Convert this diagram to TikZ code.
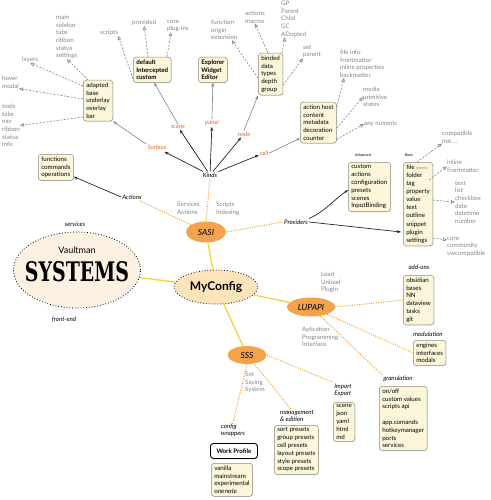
\documentclass[tikz,border=0pt]{standalone}
\usepackage{fontspec}
\usepackage{graphicx}
\setmainfont{Lato}
\newfontfamily\sysfont{DejaVu Serif}
\usetikzlibrary{arrows.meta,shapes.geometric,calc,shadows}
\definecolor{boxfill}{HTML}{FCF7DA}
\definecolor{boxline}{HTML}{8C8A80}
\definecolor{graytxt}{HTML}{84848E}
\definecolor{orangetxt}{HTML}{F0621E}
\definecolor{orangefill}{HTML}{F5A24C}
\definecolor{yline}{HTML}{F6D33C}
\definecolor{odot}{HTML}{F0A02E}
\definecolor{cfgfill}{HTML}{FEE4B8}
\definecolor{sysfill}{HTML}{FBF0E2}
\definecolor{arrgray}{HTML}{7E8490}
\tikzset{
  box/.style={draw=boxline, fill=boxfill, rounded corners=3pt, align=left, anchor=north west,
    inner xsep=3pt, inner ysep=2.5pt, font=\fontsize{6.2}{7.8}\selectfont, line width=0.5pt,
    drop shadow={opacity=0.2, shadow xshift=0.5pt, shadow yshift=-0.8pt}},
  glabel/.style={text=graytxt, align=left, font=\fontsize{6.2}{7.6}\selectfont, inner sep=0pt, anchor=north west},
  blabel/.style={font=\fontsize{6.2}{7.2}\selectfont\itshape, inner sep=1pt, align=left},
  olabel/.style={text=orangetxt, font=\fontsize{6}{7}\selectfont\itshape, inner sep=1pt},
  kindarrow/.style={-{Stealth[length=4pt,width=3pt]}, line width=0.7pt, black!85},
  grayarrow/.style={-{Stealth[length=4pt,width=3pt]}, line width=0.6pt, arrgray},
  dasharrow/.style={-{Triangle[open,length=4pt,width=3.5pt]}, dash pattern=on 2pt off 1.5pt, line width=0.6pt, arrgray},
  yellowline/.style={yline, line width=1.3pt},
  orangedot/.style={odot, line width=1pt, dash pattern=on 1pt off 1.4pt},
  hub/.style={ellipse, fill=orangefill, inner sep=0pt, font=\fontsize{8.5}{9}\selectfont\itshape},
}
\begin{document}
\begin{tikzpicture}[x=1pt,y=-1pt]
\useasboundingbox (0,0) rectangle (490,500);

% ===== hubs =====
\node[ellipse, draw=black, dotted, line width=0.8pt, fill=sysfill, minimum width=127pt, minimum height=76pt] (sys) at (77,270) {};
\node[font=\fontsize{9}{10}\selectfont] (vault) at (77,250) {Vaultman};
\node[inner sep=0pt] (systxt) at (77,272) {\resizebox{104pt}{20pt}{\sysfont\bfseries SYSTEMS}};
\node[blabel] (services) at (75,224) {services};
\node[blabel] (frontend) at (64,320) {front-end};

\node[ellipse, draw=black, dotted, line width=0.8pt, fill=cfgfill, minimum width=77pt, minimum height=34pt, font=\fontsize{12}{13}\selectfont\bfseries] (cfg) at (216,287) {MyConfig};
\node[hub, minimum width=40pt, minimum height=21pt] (sasi) at (206,232) {SASI};
\node[hub, minimum width=48pt, minimum height=19pt] (lupapi) at (311,307) {LUPAPI};
\node[hub, minimum width=39pt, minimum height=18pt] (sss) at (247,355) {SSS};

\draw[yellowline] (cfg) -- (sasi);
\draw[yellowline] (cfg) -- (sys);
\draw[yellowline] (cfg) -- (lupapi);
\draw[yellowline] (cfg) -- (sss);

% ===== SASI branch =====
\node[blabel] (kinds) at (210,175) {Kinds};
\node[blabel] (actions) at (132,197) {Actions};
\node[blabel] (prov) at (296,222) {Providers};
\node[glabel] (servact) at (177,202) {Services\\Actions};
\node[glabel] (scridx) at (216,202) {Scripts\\Indexing};

\draw[orangedot] (sasi.north) -- (kinds.south);
\draw[orangedot] (sasi) -- (actions);
\draw[orangedot] (sasi.east) -- (prov.west);

\node[box] (funcbox) at (38,154) {functions\\commands\\operations};
\draw[kindarrow] (actions.west) -- ($(funcbox.south east)+(0,-4)$);

% kinds
\node[olabel] (surface) at (157,148) {Surface};
\node[olabel] (scene) at (178,127) {scene};
\node[olabel] (panel) at (212,123) {panel};
\node[olabel] (nodek) at (244,134) {node};
\node[olabel] (cell) at (264,153) {cell};
\draw[kindarrow] (kinds) -- (surface);
\draw[kindarrow] (kinds) -- (scene);
\draw[kindarrow] (kinds) -- (panel);
\draw[kindarrow] (kinds) -- (nodek);
\draw[kindarrow] (kinds) -- (cell);

\node[box] (adapted) at (83,80) {adapted\\base\\underlay\\overlay\\bar};
\node[box, font=\fontsize{6.2}{7.8}\selectfont\bfseries] (default) at (133,57) {default\\Intercepted\\custom};
\node[box, font=\fontsize{6.2}{7.8}\selectfont\bfseries] (explorer) at (198,57) {Explorer\\Widget\\Editor};
\node[box] (binded) at (258,53) {binded\\data\\types\\depth\\group};
\node[box] (acthost) at (300,102) {action host\\content\\metadata\\decoration\\counter};

\draw[grayarrow] (surface.north west) -- (adapted.south east);
\draw[grayarrow] (scene.north) -- ([xshift=2pt]default.south);
\draw[grayarrow] (panel.north) -- (explorer.south);
\draw[grayarrow] (nodek.north) -- (binded.south west);
\draw[grayarrow] (cell.east) -- ($(acthost.south west)+(0,-5)$);

% gray labels around surface
\node[glabel] (mainlbl) at (56,15) {main\\sidebar\\tabs\\ribbon\\status\\settings};
\node[glabel] (layers) at (22,57) {layers};
\node[glabel] (hover) at (2,76) {hover\\modal};
\node[glabel] (tools) at (2,104) {tools\\tabs\\nav\\ribbon\\status\\info};
\node[glabel] (scripts) at (100,30) {scripts};
\node[glabel] (provided) at (132,20) {provided};
\node[glabel] (core) at (167,20) {core\\plug-ins};
\node[glabel] (func) at (211,20) {function\\origin\\extension};
\node[glabel] (actmac) at (245,11) {actions\\macros};
\node[glabel] (gp) at (281,1) {GP\\Parent\\Child\\GC\\ADopted};
\node[glabel] (setp) at (303,45) {set\\parent};
\node[glabel] (fileinfo) at (340,50) {file info\\frontmatter\\inline properties\\backmatter};
\node[glabel] (media) at (363,87) {media\\primitive\\states};
\node[glabel, anchor=west] (anynum) at (364,124) {any numeric};

\draw[dasharrow] ($(adapted.north west)+(5,0)$) -- (mainlbl.south);
\draw[dasharrow] ($(adapted.north west)+(0,6)$) -- (layers.south);
\draw[dasharrow] ($(adapted.north west)+(0,19)$) -- (hover.south east);
\draw[dasharrow] ($(adapted.north west)+(0,37)$) -- (tools.east);
\draw[dasharrow] ($(default.north west)+(0,22)$) -- (scripts.south east);
\draw[dasharrow] ($(default.north west)+(15,0)$) -- (provided.south);
\draw[dasharrow] ($(default.north west)+(34,0)$) -- ($(core.south west)+(4,0)$);
\draw[dasharrow] ($(binded.north west)+(0,25)$) -- ($(func.south east)+(-6,0)$);
\draw[dasharrow] ($(binded.north west)+(10,0)$) -- (actmac.south);
\draw[dasharrow] ($(binded.north west)+(24,0)$) -- ($(gp.south west)+(4,0)$);
\draw[dasharrow] ($(binded.north east)+(0,32)$) -- (setp.south west);
\draw[dasharrow] ($(acthost.north east)+(0,5)$) -- ($(fileinfo.south west)+(4,0)$);
\draw[dasharrow] ($(acthost.north east)+(0,26)$) -- (media.west);
\draw[dasharrow] ($(acthost.south east)+(0,-4)$) -- (anynum.west);

% providers
\node[font=\fontsize{3.8}{4}\selectfont\itshape] (advlbl) at (363,155) {Advanced};
\node[font=\fontsize{3.8}{4}\selectfont\itshape] (basiclbl) at (409,155) {Basic};
\node[box] (advanced) at (348,162) {custom\\actions\\configuration\\presets\\scenes\\InputBinding};
\node[box, font=\fontsize{6.2}{8.1}\selectfont] (basic) at (403,162) {file {\fontsize{3.8}{4}\selectfont\color{graytxt}(notes)}\\folder\\tag\\property\\value\\text\\outline\\snippet\\plugin\\settings};
\draw[kindarrow] (prov.north east) to[out=25,in=215] ($(advanced.north west)+(0,28)$);
\draw[kindarrow] (prov.east) -- ($(basic.north west)+(-2,70)$);

\node[glabel] (compat) at (442,131) {compatible\\not ...};
\node[glabel] (inline) at (447,160) {inline\\frontmatter};
\node[glabel] (textlist) at (455,181) {text\\list\\checkbox\\date\\datetime\\number};
\node[glabel] (corecomm) at (447,237) {core\\community\\vwcompatible};
\draw[dasharrow] ($(basic.north west)+(14,0)$) -- (compat.south west);
\draw[dasharrow] ($(basic.north east)+(-4,18)$) -- (inline.west);
\draw[dasharrow] ($(basic.north east)+(0,38)$) -- (textlist.west);
\draw[dasharrow] ($(basic.south east)+(0,-8)$) -- ([yshift=-3pt]corecomm.north west);

% ===== LUPAPI branch =====
\node[glabel] (lup) at (321,272) {Load\\Unload\\Plugin};
\node[glabel] (api) at (302,327) {Aplication\\Programming\\Interface};
\node[blabel] (addonslbl) at (419,267) {add-ons};
\node[box] (addons) at (403,275) {obsidian\\bases\\NN\\dataview\\tasks\\git};
\node[blabel] (modlbl) at (428,334) {modulation};
\node[box] (modbox) at (413,340) {engines\\interfaces\\modals};
\node[blabel] (granlbl) at (398,379) {granulation};
\node[box] (granbox) at (379,386) {on/off\\custom values\\scripts api\\[7.8pt]app.comands\\hotkeymanager\\ports\\services};
\draw[orangedot] (lupapi.east) -- (addons.west);
\draw[orangedot] (lupapi) -- (modbox.west);
\draw[orangedot] (lupapi) -- (granlbl.north west);

% ===== SSS branch =====
\node[glabel] (ssslbl) at (245,372) {Set\\Saving\\System};
\node[blabel] (implbl) at (343,390) {Import\\Export};
\node[box] (impbox) at (333,402) {scene\\json\\yaml\\html\\md};
\node[blabel] (mgmtlbl) at (297,416) {management\\\& edition};
\node[box] (mgmtbox) at (274,425) {sort presets\\group presets\\cell presets\\layout presets\\style presets\\scope presets};
\node[blabel] (cfglbl) at (233,430) {config\\wrappers};
\node[draw=black, line width=0.9pt, fill=white, rounded corners=3pt, minimum width=47pt, minimum height=15pt, anchor=north west, font=\fontsize{6.2}{7}\selectfont\bfseries, drop shadow={opacity=0.2, shadow xshift=0.5pt, shadow yshift=-0.8pt}] (work) at (210,443) {Work Profile};
\node[box] (vanilla) at (211,463) {vanilla\\mainstream\\experimental\\onenote};
\draw[orangedot] (sss.east) -- (implbl.north west);
\draw[orangedot] (sss) -- ($(mgmtlbl.north west)+(12,0)$);
\draw[orangedot] (sss.south) -- (cfglbl.north);
\end{tikzpicture}
\end{document}
